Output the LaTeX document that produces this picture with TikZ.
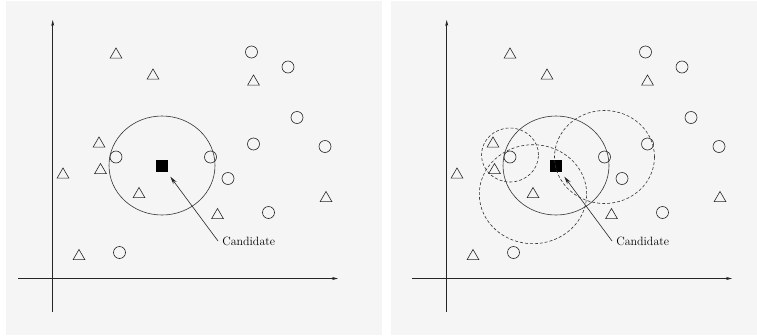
\documentclass[tikz,border=0pt]{standalone}
\usepackage{tikz}
\usetikzlibrary{arrows.meta,shapes.geometric}
\definecolor{panelgray}{HTML}{F5F5F5}
\tikzset{tri/.style={regular polygon, regular polygon sides=3, draw=black!85,
  minimum size=13.5pt, inner sep=0pt, yshift=-1.7pt},
  circ/.style={circle, draw=black!85, minimum size=12pt, inner sep=0pt},
  cand/.style={rectangle, fill=black, minimum size=12pt, inner sep=0pt},
  lbl/.style={font=\fontsize{12}{14}\selectfont, inner sep=0pt, anchor=west}}

\begin{document}
\begin{tikzpicture}[x=1pt, y=-1pt, >=Stealth, line width=0.6pt,
  axis/.style={draw=black!85, -{Stealth[length=6pt, width=3pt]}},
  hood/.style={draw=black!80},
  hoodd/.style={draw=black!80, dash pattern=on 3pt off 2pt}]
  \useasboundingbox (0,0) rectangle (757,335);
  \fill[white] (0,0) rectangle (757,335);
  % the two panels
  \fill[panelgray] (6,1) rectangle (382,335);
  \fill[panelgray] (391,1) rectangle (757,335);
  \foreach \p/\dx in {l/0, r/394}{
    \begin{scope}[xshift=\dx]
      % axes
      \coordinate (\p-yb) at (52.7,312);
      \coordinate (\p-yt) at (52.7,20);
      \coordinate (\p-xl) at (18,278.5);
      \coordinate (\p-xr) at (338,278.5);
      \draw[axis] (\p-yb) -- (\p-yt);
      \draw[axis] (\p-xl) -- (\p-xr);
      % class A
      \foreach \x/\y [count=\i] in {116/53, 153/74, 253.5/80, 99/142, 63/173,
          100.5/168.5, 139/192.5, 217.5/213.5, 326/196.5, 79/254.5}
        \node[tri] (\p-t\i) at (\x,\y) {};
      % class B
      \foreach \x/\y [count=\i] in {251.5/52, 288/67, 297/117.5, 253.5/144,
          325/146.5, 116/157, 210.5/157, 228/178.5, 268.5/212.5, 119.5/252.5}
        \node[circ] (\p-c\i) at (\x,\y) {};
      % candidate and its neighbourhood
      \node[cand] (\p-sq) at (162,165.5) {};
      \draw[hood] (\p-sq) ellipse [x radius=53pt, y radius=49.5pt];
      \node[lbl] (\p-lbl) at (222,241) {Candidate};
      \draw[->, black!85, shorten >=6pt, {-Stealth[length=8pt, width=4pt]}]
        ([xshift=-4pt]\p-lbl.west) -- (\p-sq);
    \end{scope}
  }
  % neighbourhoods of the neighbours
  \draw[hoodd] ([yshift=2pt]r-c6) ellipse [x radius=28.5pt, y radius=27pt];
  \draw[hoodd] (r-t7) ellipse [x radius=53.7pt, y radius=49.5pt];
  \draw[hoodd] (r-c7) ellipse [x radius=50pt, y radius=46.5pt];
\end{tikzpicture}
\end{document}
